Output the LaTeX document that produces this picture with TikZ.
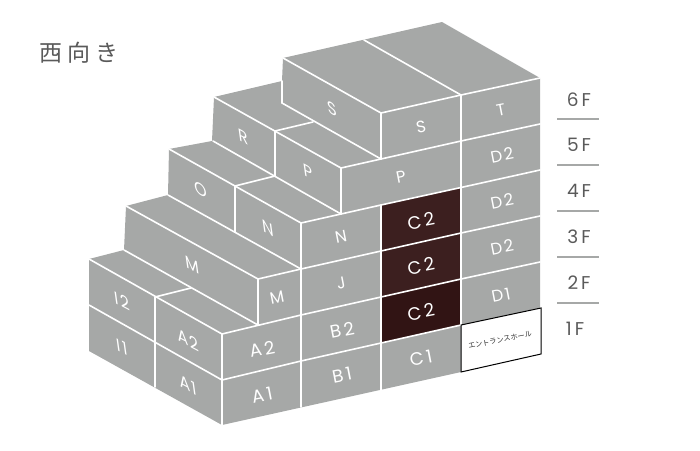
\documentclass[tikz,border=0pt]{standalone}
\usepackage{fontspec}
\setmainfont{Poppins}
\newfontfamily\cjkfont{Noto Sans CJK JP}
\newfontfamily\roomfont[LetterSpace=12]{Poppins}
\newfontfamily\widefont[LetterSpace=16]{Poppins}
\definecolor{blockgray}{HTML}{A6A8A7}
\definecolor{roomdark}{HTML}{3C1F1F}
\definecolor{roomdarker}{HTML}{311414}
\definecolor{floorgray}{HTML}{5A5A5A}
\tikzset{
  edge/.style={white,line width=1.6pt,line cap=round},
  front/.style={white,font=\roomfont\fontsize{16.5}{17}\selectfont,rotate=11},
  widefront/.style={white,font=\widefont\fontsize{18}{18}\selectfont,rotate=11},
  wing/.style={white,font=\roomfont\fontsize{18}{18}\selectfont,cm={.88,-.47,-.14,.99,(0,0)}},
  floorlabel/.style={floorgray,font=\widefont\fontsize{18.5}{19}\selectfont}
}
\begin{document}
\begin{tikzpicture}[x=1pt,y=-1pt]
    \useasboundingbox (0,0) rectangle (700,450);
    \fill[blockgray] (283,58) -- (442,22) -- (540,78) -- (540,308) -- (461,372) -- (222,425) -- (89,351) -- (89,259) -- (124,250) -- (126,206) -- (168,195) -- (169,149) -- (212,141) -- (214,97) -- (282,81) -- cycle;
    \fill[roomdark] (381,205) -- (461,187.5) -- (461,279) -- (381,297) -- cycle;
    \fill[roomdarker] (381,297) -- (461,279) -- (461,325) -- (381,343) -- cycle;

    % floors on the front
    \draw[edge] (341,168) -- (381,159) -- (461,141) -- (540,124);
    \draw[edge] (301,223) -- (381,205) -- (461,187.5) -- (540,170);
    \draw[edge] (258,279) -- (301,269) -- (381,251) -- (461,233) -- (540,216);
    \draw[edge] (222,334) -- (301,315) -- (381,297) -- (461,279) -- (540,262);
    \draw[edge] (222,380) -- (301,361) -- (381,343) -- (461,325);
    \draw[edge] (283,58) -- (381,113) -- (461,95) -- (540,78);
    \draw[edge] (364,40) -- (461,95);
    % uprights
    \draw[edge] (461,95) -- (461,325);
    \draw[edge] (381,113) -- (381,159);
    \draw[edge] (381,205) -- (381,390);
    \draw[edge] (341,168) -- (341,214);
    \draw[edge] (301,223) -- (301,407);
    \draw[edge] (258,279) -- (258,325);
    \draw[edge] (222,334) -- (222,425);
    \draw[edge] (155,297) -- (155,387);
    \draw[edge] (235,186) -- (235,232);
    \draw[edge] (275,131) -- (275,176);
    \draw[edge] (282,81) -- (282,103);
    % steps on the left
    \draw[edge] (89,259) -- (222,334);
    \draw[edge] (89,305) -- (222,380);
    \draw[edge] (124,250) -- (258,325);
    \draw[edge] (155,297) -- (191,288);
    \draw[edge] (126,206) -- (258,279);
    \draw[edge] (168,195) -- (301,269);
    \draw[edge] (169,149) -- (301,223);
    \draw[edge] (235,186) -- (275,176);
    \draw[edge] (213,141) -- (341,214);
    \draw[edge] (214,97) -- (341,168);
    \draw[edge] (275,131) -- (313,122);
    \draw[edge] (282,103) -- (381,159);

    % entrance
    \draw[black,fill=white,line width=1pt] (461,325) -- (541,308) -- (541,354) -- (461,372) -- cycle;
    \node[rotate=11,text=black!80,font=\cjkfont\fontsize{7.2}{7.2}\selectfont] (hall) at (500,340) {エントランスホール};

    \node[wing] (s1) at (332,109) {S};
    \node[wing] (p1) at (308,172) {P};
    \node[wing] (r1) at (243,137) {R};
    \node[wing] (o1) at (201,190) {O};
    \node[wing] (n1) at (268,228) {N};
    \node[wing] (m1) at (192,265) {M};
    \node[wing] (i2) at (122,301) {I2};
    \node[wing] (i1) at (122,347) {I1};
    \node[wing] (a2w) at (188,340) {A2};
    \node[wing] (a1w) at (188,385) {A1};

    \node[front] (s2) at (421,127) {S};
    \node[front] (t) at (501,110) {T};
    \node[front] (d5) at (502,155) {D2};
    \node[front] (p2) at (401,177) {P};
    \node[front] (d4) at (502,201) {D2};
    \node[front] (d3) at (502,247) {D2};
    \node[front] (d1) at (501,295) {D1};
    \node[front] (n2) at (341,237) {N};
    \node[front] (j) at (341,283) {J};
    \node[front] (m2) at (277,298) {M};
    \node[widefront] (c4) at (421,221) {C2};
    \node[widefront] (c3) at (421,266) {C2};
    \node[widefront] (c2) at (421,312) {C2};
    \node[widefront] (c1) at (421,358) {C1};
    \node[widefront] (b2) at (342,330) {B2};
    \node[widefront] (b1) at (342,375) {B1};
    \node[widefront] (a2) at (262,349) {A2};
    \node[widefront] (a1) at (262,395) {A1};

    % floor scale
    \node[floorlabel] (f6) at (579,100) {6F};
    \node[floorlabel] (f5) at (579,145) {5F};
    \node[floorlabel] (f4) at (579,191) {4F};
    \node[floorlabel] (f3) at (579,237) {3F};
    \node[floorlabel] (f2) at (579,283) {2F};
    \node[floorlabel] (f1) at (575,329) {1F};
    \foreach \y in {119,165,211,257,303}
        \draw[blockgray,line width=1.2pt] (557,\y) -- (599,\y);

    \node[floorgray,font=\cjkfont\fontsize{23}{23}\selectfont] (title) at (79,53) {西\hspace{5pt}向\hspace{5pt}き};
\end{tikzpicture}
\end{document}
